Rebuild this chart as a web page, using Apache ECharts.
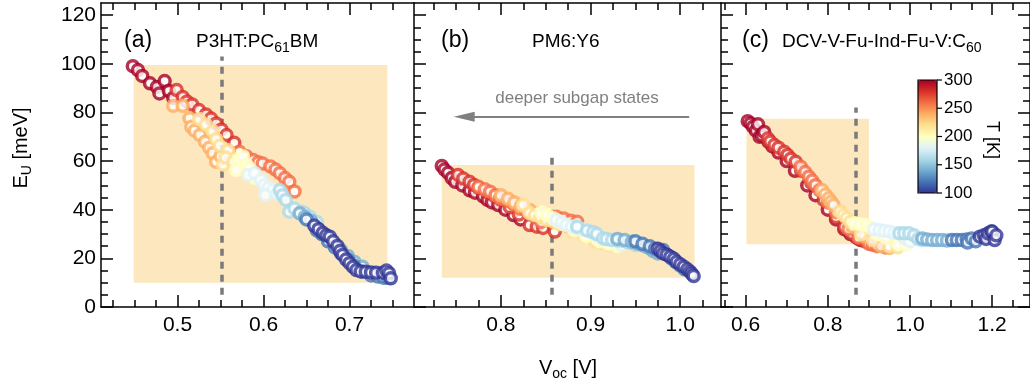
<!DOCTYPE html>
<html>
<head>
<meta charset="utf-8">
<script src="https://cdn.jsdelivr.net/npm/echarts@6/dist/echarts.min.js"></script>
<style>
html, body { margin: 0; padding: 0; background: #fff; }
#chart { width: 1030px; height: 389px; }
</style>
</head>
<body>
<div id="chart"></div>
<script>
// temperature of each point group [K], hot first so cold ones sit on top
const tempsK = [300, 280, 260, 240, 220, 200, 180, 160, 140, 120, 100];

// [Voc (V), EU (meV)] for each temperature in tempsK order
const panelA = [
  [[0.448, 99.0], [0.454, 97.4], [0.459, 95.0], [0.468, 92.0], [0.476, 90.5], [0.479, 87.8], [0.485, 92.9],
   [0.490, 88.8], [0.495, 86.0]],
  [[0.499, 89.2], [0.506, 86.4], [0.511, 84.5], [0.517, 83.3], [0.525, 81.0], [0.533, 79.2], [0.539, 77.5],
   [0.545, 75.5], [0.551, 73.0], [0.557, 70.7], [0.566, 67.5]],
  [[0.572, 63.8], [0.580, 62.0], [0.588, 60.4], [0.594, 59.5], [0.599, 59.0], [0.608, 57.8], [0.614, 56.5],
   [0.619, 55.0], [0.625, 53.0], [0.630, 51.5], [0.636, 47.5]],
  [[0.495, 82.7], [0.506, 82.7], [0.514, 77.6], [0.516, 74.1], [0.520, 72.5], [0.526, 70.7], [0.532, 67.9],
   [0.537, 65.5], [0.541, 63.2], [0.545, 59.7], [0.550, 62.0]],
  [[0.525, 77.3], [0.533, 75.0], [0.541, 72.3], [0.545, 69.0], [0.549, 66.3], [0.559, 64.5], [0.553, 58.5],
   [0.556, 61.5], [0.565, 59.7]],
  [[0.574, 59.7], [0.571, 61.0], [0.568, 56.3], [0.576, 62.0], [0.580, 58.5], [0.584, 57.0], [0.590, 53.0]],
  [[0.582, 54.3], [0.590, 55.0], [0.597, 52.2], [0.601, 50.1], [0.606, 49.0], [0.611, 48.1], [0.602, 46.0],
   [0.616, 46.5]],
  [[0.619, 48.1], [0.622, 46.0], [0.626, 44.0], [0.630, 39.2], [0.636, 40.5], [0.644, 39.2], [0.648, 38.5],
   [0.654, 37.1], [0.662, 35.0]],
  [[0.642, 38.5], [0.648, 37.0], [0.655, 35.5], [0.662, 32.5], [0.668, 30.0], [0.675, 28.5], [0.682, 26.0],
   [0.690, 23.5], [0.698, 21.0], [0.706, 18.5], [0.715, 16.6], [0.730, 14.0]],
  [[0.650, 36.0], [0.662, 31.5], [0.668, 30.0], [0.675, 27.0], [0.683, 24.5], [0.690, 22.0], [0.698, 19.5],
   [0.705, 17.0], [0.715, 14.5], [0.725, 13.0], [0.733, 12.5], [0.740, 12.0], [0.745, 12.0]],
  [[0.659, 33.5], [0.664, 32.0], [0.669, 30.5], [0.673, 29.5], [0.677, 28.9], [0.681, 27.0], [0.686, 25.1],
   [0.689, 23.0], [0.692, 21.4], [0.696, 19.5], [0.700, 18.0], [0.704, 16.5], [0.708, 15.2], [0.713, 14.6],
   [0.719, 14.5], [0.725, 14.2], [0.731, 14.1], [0.739, 14.1], [0.743, 15.0], [0.746, 13.9], [0.748, 11.8]]
];

const panelB = [
  [[0.734, 58.0], [0.737, 56.5], [0.741, 55.2], [0.745, 53.0], [0.749, 51.5], [0.757, 50.0], [0.765, 48.0],
   [0.771, 47.0], [0.780, 45.5], [0.785, 44.0], [0.790, 43.0], [0.797, 41.9], [0.805, 40.0], [0.814, 37.8],
   [0.822, 36.0]],
  [[0.752, 54.3], [0.758, 52.8], [0.765, 51.5], [0.770, 50.2], [0.775, 49.0], [0.785, 47.0], [0.793, 45.5],
   [0.800, 44.0], [0.810, 41.0], [0.820, 38.0], [0.832, 33.7], [0.840, 33.0], [0.847, 32.5], [0.860, 31.0]],
  [[0.775, 49.4], [0.782, 48.4], [0.788, 47.4], [0.794, 46.0], [0.799, 44.7], [0.805, 44.0], [0.810, 43.3],
   [0.815, 42.0], [0.821, 40.5], [0.828, 39.5], [0.838, 37.0], [0.845, 35.0], [0.862, 37.1], [0.870, 36.4],
   [0.878, 35.5], [0.885, 35.1]],
  [[0.800, 46.0], [0.808, 44.5], [0.815, 43.0], [0.822, 41.5], [0.832, 39.9], [0.840, 38.5], [0.850, 37.0],
   [0.862, 35.0], [0.875, 33.0], [0.888, 31.5], [0.900, 30.0]],
  [[0.825, 42.0], [0.832, 38.5], [0.838, 37.8], [0.844, 37.1], [0.851, 35.8], [0.858, 35.1], [0.865, 34.0],
   [0.880, 31.0], [0.893, 29.0], [0.905, 27.0], [0.912, 26.3], [0.920, 25.5]],
  [[0.845, 39.0], [0.852, 37.8], [0.858, 36.5], [0.864, 35.2], [0.870, 34.0], [0.882, 31.5], [0.895, 29.0],
   [0.910, 27.0], [0.920, 26.0], [0.930, 25.0]],
  [[0.862, 35.8], [0.868, 34.8], [0.873, 33.7], [0.879, 33.0], [0.885, 32.3], [0.890, 32.0], [0.896, 31.6],
   [0.902, 30.5], [0.907, 29.6], [0.920, 27.5], [0.935, 25.5]],
  [[0.885, 33.0], [0.896, 31.5], [0.903, 30.8], [0.907, 30.0], [0.914, 28.2], [0.918, 28.0], [0.924, 27.5],
   [0.930, 27.3], [0.935, 27.2], [0.942, 26.5], [0.950, 25.5]],
  [[0.930, 28.0], [0.938, 27.5], [0.946, 26.8], [0.952, 26.2], [0.957, 25.5], [0.962, 24.8], [0.966, 24.1],
   [0.970, 23.0], [0.975, 22.0]],
  [[0.950, 27.0], [0.958, 26.0], [0.966, 25.0], [0.972, 24.0], [0.978, 22.7], [0.981, 23.4], [0.985, 21.5],
   [0.990, 20.0], [0.995, 18.5], [1.000, 17.0], [1.005, 15.5]],
  [[0.975, 24.0], [0.978, 23.0], [0.981, 22.0], [0.985, 21.5], [0.989, 20.7], [0.993, 19.8], [0.996, 18.6],
   [1.000, 17.6], [1.004, 16.6], [1.008, 15.5], [1.011, 14.5], [1.013, 13.6], [1.015, 12.7]]
];

const panelC = [
  [[0.605, 76.4], [0.612, 75.5], [0.618, 74.1], [0.625, 72.5], [0.630, 75.1], [0.634, 70.0], [0.640, 70.5],
   [0.645, 72.0], [0.655, 68.0], [0.665, 66.0], [0.680, 63.5], [0.700, 60.0], [0.720, 56.0], [0.750, 50.0],
   [0.770, 46.0], [0.800, 40.0], [0.820, 36.0], [0.840, 32.0], [0.855, 30.0], [0.870, 28.5], [0.880, 27.5]],
  [[0.654, 69.3], [0.660, 68.0], [0.670, 66.6], [0.680, 65.5], [0.694, 63.8], [0.702, 62.5], [0.710, 61.0],
   [0.722, 59.7], [0.735, 56.0], [0.760, 51.0], [0.790, 44.0], [0.820, 37.0], [0.840, 33.0], [0.860, 30.0],
   [0.875, 28.0], [0.890, 27.0], [0.905, 26.0]],
  [[0.734, 57.7], [0.745, 55.5], [0.754, 53.6], [0.762, 52.0], [0.770, 50.1], [0.780, 48.0], [0.800, 43.0],
   [0.820, 39.0], [0.850, 32.0], [0.875, 28.5], [0.900, 26.0], [0.910, 25.5], [0.920, 25.0], [0.940, 24.5]],
  [[0.786, 48.1], [0.794, 46.3], [0.802, 44.7], [0.808, 43.3], [0.814, 41.9], [0.830, 39.0], [0.860, 33.0],
   [0.890, 29.0], [0.930, 25.0], [0.950, 24.3]],
  [[0.830, 39.2], [0.838, 37.8], [0.846, 36.5], [0.855, 35.0], [0.880, 30.0], [0.910, 27.5], [0.950, 25.0],
   [0.970, 24.5]],
  [[0.866, 34.4], [0.880, 34.0], [0.894, 33.7], [0.905, 32.5], [0.920, 30.0], [0.940, 28.5], [0.970, 26.0],
   [0.990, 25.5]],
  [[0.913, 32.0], [0.926, 31.6], [0.938, 31.3], [0.950, 31.0], [0.962, 30.5], [0.990, 28.0], [1.000, 27.0]],
  [[0.974, 30.3], [0.986, 30.3], [0.998, 30.3], [1.010, 29.5], [1.020, 28.0], [1.030, 27.5]],
  [[1.030, 28.2], [1.042, 27.8], [1.054, 27.5], [1.066, 27.5], [1.078, 27.5], [1.090, 27.3]],
  [[1.102, 27.5], [1.114, 27.5], [1.126, 27.5], [1.138, 27.8], [1.140, 26.5], [1.150, 28.2], [1.160, 27.0]],
  [[1.170, 28.9], [1.180, 29.5], [1.185, 28.0], [1.190, 30.3], [1.198, 31.0], [1.200, 31.0], [1.206, 27.5],
   [1.210, 29.5]]
];

// shaded boxes [[x0, y0], [x1, y1]] and dashed markers [x, yTop]
const shadeBoxes = [[[0.449, 10], [0.744, 99.5]], [[0.734, 12], [1.016, 58.4]], [[0.602, 25.8], [0.900, 77.4]]];
const dashLines = [[0.552, 103], [0.857, 63.3], [0.868, 82]];

const xRanges = [[0.411, 0.775], [0.703, 1.0455], [0.54, 1.292]];
const xMajor = [[0.5, 0.6, 0.7], [0.8, 0.9, 1.0], [0.6, 0.8, 1.0, 1.2]];
const xMinorStep = [0.025, 0.025, 0.05];
const yMajor = [0, 20, 40, 60, 80, 100, 120];
const cbTicks = [100, 150, 200, 250, 300];

const cmap = ['#313695', '#4575b4', '#74add1', '#abd9e9', '#e0f3f8', '#ffffbf',
  '#fee090', '#fdae61', '#f46d43', '#d73027', '#a50026'];

const FONT = 'Liberation Sans, Arial, sans-serif';
const grids = [
  { left: 101, top: 3, width: 313, height: 304 },
  { left: 414, top: 3, width: 307, height: 304 },
  { left: 721, top: 3, width: 313, height: 304 }
];

function minorTicks(lo, hi, step, majors) {
  const out = [];
  for (let k = Math.ceil(lo / step - 1e-6); k * step < hi - 1e-6; k++) {
    const v = +(k * step).toFixed(4);
    if (v > lo + 1e-6 && !majors.some(m => Math.abs(m - v) < 1e-6)) out.push(v);
  }
  return out;
}
const yMinor = minorTicks(0, 125, 5, yMajor);

const tickLine = { color: '#000', width: 1.5 };

function xAxisDef(i, pos, ticks, len, labels) {
  return {
    type: 'value', gridIndex: i, position: pos,
    min: xRanges[i][0], max: xRanges[i][1],
    axisLine: { show: len > 8, onZero: false, lineStyle: tickLine },
    axisTick: { show: true, inside: true, length: len, customValues: ticks, lineStyle: tickLine },
    axisLabel: {
      show: labels, customValues: ticks, margin: 8, fontSize: 21, color: '#000', fontFamily: FONT,
      formatter: v => v.toFixed(1)
    },
    splitLine: { show: false }
  };
}
function yAxisDef(i, pos, ticks, len, labels) {
  return {
    type: 'value', gridIndex: i, position: pos, min: 0, max: 125,
    axisLine: { show: len > 8, onZero: false, lineStyle: tickLine },
    axisTick: { show: true, inside: true, length: len, customValues: ticks, lineStyle: tickLine },
    axisLabel: { show: labels, customValues: ticks, margin: 5, fontSize: 21, color: '#000', fontFamily: FONT },
    splitLine: { show: false }
  };
}

const xAxes = [];
const yAxes = [];
const yMainIdx = [];
for (let i = 0; i < 3; i++) {
  const minors = minorTicks(xRanges[i][0], xRanges[i][1], xMinorStep[i], xMajor[i]);
  xAxes.push(xAxisDef(i, 'bottom', xMajor[i], 12, true));
  xAxes.push(xAxisDef(i, 'bottom', minors, 7, false));
  xAxes.push(xAxisDef(i, 'top', xMajor[i], 12, false));
  xAxes.push(xAxisDef(i, 'top', minors, 7, false));
  yMainIdx.push(yAxes.length);
  yAxes.push(yAxisDef(i, 'left', yMajor, 12, i === 0));
  yAxes.push(yAxisDef(i, 'left', yMinor, 7, false));
  if (i === 2) {
    yAxes.push(yAxisDef(i, 'right', yMajor, 12, false));
    yAxes.push(yAxisDef(i, 'right', yMinor, 7, false));
  }
}

function points(panel) {
  const out = [];
  panel.forEach((grp, k) => {
    const t = tempsK[k];
    const c = echarts.color.lerp((t - 100) / 200, cmap);
    grp.forEach(p => out.push({ value: [p[0], p[1], t], itemStyle: { borderColor: c } }));
  });
  return out;
}

const panels = [panelA, panelB, panelC];
const series = [];
panels.forEach((panel, i) => {
  series.push({
    type: 'scatter', xAxisIndex: i * 4, yAxisIndex: yMainIdx[i], z: 3,
    symbol: 'circle', symbolSize: 11,
    itemStyle: { color: '#fff', borderWidth: 3.5 },
    emphasis: { disabled: true },
    data: points(panel)
  });
});
panels.forEach((panel, i) => {
  const box = shadeBoxes[i];
  const d = dashLines[i];
  const lines = [[
    { coord: [d[0], 5], symbol: 'none', lineStyle: { color: '#7a7a7a', type: [7, 6], width: 3.5 } },
    { coord: [d[0], d[1]], symbol: 'none' }
  ]];
  if (i === 1) {
    lines.push([
      { coord: [1.010, 78.2], symbol: 'none', lineStyle: { color: '#808080', type: 'solid', width: 2 } },
      { coord: [0.759, 78.2], symbol: 'triangle', symbolSize: [10, 21] }
    ]);
  }
  series.push({
    type: 'scatter', xAxisIndex: i * 4, yAxisIndex: yMainIdx[i], z: 1, data: [],
    markArea: {
      silent: true, z: 0,
      itemStyle: { color: '#fde7bf' },
      data: [[{ coord: box[0] }, { coord: box[1] }]]
    },
    markLine: {
      silent: true, z: 1, symbol: 'none', animation: false,
      label: { show: false },
      data: lines
    }
  });
});
// dummy target for the colour bar
series.push({ type: 'scatter', xAxisIndex: 0, yAxisIndex: 0, data: [] });

const cbLeft = 918, cbTop = 80, cbW = 19, cbH = 113;
const cbGraphics = [{
  type: 'rect', shape: { x: cbLeft, y: cbTop, width: cbW, height: cbH },
  style: { fill: 'none', stroke: '#000', lineWidth: 1.2 }, z: 10
}];
cbTicks.forEach(t => {
  const y = cbTop + cbH - (t - 100) / 200 * cbH;
  cbGraphics.push({ type: 'line', shape: { x1: cbLeft + cbW, y1: y, x2: cbLeft + cbW + 5, y2: y },
    style: { stroke: '#000', lineWidth: 1.2 }, z: 10 });
  cbGraphics.push({ type: 'text', x: cbLeft + cbW + 7, y: y, z: 10,
    style: { text: String(t), font: '17px ' + FONT, fill: '#000', align: 'left', verticalAlign: 'middle' } });
});

const sub = (size, pad) => ({ fontSize: size, fontFamily: FONT, color: '#000', padding: [pad, 0, 0, 0] });
const base = size => ({ fontSize: size, fontFamily: FONT, color: '#000' });

function label(x, y, text, size) {
  return { type: 'text', x, y, z: 10,
    style: { text, font: size + 'px ' + FONT, fill: '#000', align: 'left', verticalAlign: 'middle' } };
}
function richLabel(x, y, text, size, subSize, align, rotation) {
  return { type: 'text', x, y, z: 10, rotation: rotation || 0,
    style: { text, align: align, verticalAlign: 'middle', rich: { b: base(size), s: sub(subSize, 12) } } };
}

const option = {
  animation: false,
  textStyle: { fontFamily: FONT },
  grid: grids,
  xAxis: xAxes,
  yAxis: yAxes,
  visualMap: {
    type: 'continuous', min: 100, max: 300, orient: 'vertical', seriesIndex: 6,
    left: cbLeft, top: cbTop, itemWidth: cbW, itemHeight: cbH, padding: 0,
    calculable: false, hoverLink: false, inRange: { color: cmap }
  },
  series,
  graphic: [
    label(124, 41, '(a)', 23),
    richLabel(196, 42, '{b|P3HT:PC}{s|61}{b|BM}', 19, 14, 'left'),
    label(441, 41, '(b)', 23),
    label(532, 42, 'PM6:Y6', 19),
    label(742, 41, '(c)', 23),
    richLabel(782, 42, '{b|DCV-V-Fu-Ind-Fu-V:C}{s|60}', 19, 14, 'left'),
    { type: 'text', x: 577, y: 98, z: 10,
      style: { text: 'deeper subgap states', font: '17px ' + FONT, fill: '#808080', align: 'center', verticalAlign: 'middle' } },
    richLabel(21, 148, '{b|E}{s|U}{b| [meV]}', 20, 14, 'center', Math.PI / 2),
    richLabel(568, 368, '{b|V}{s|oc}{b| [V]}', 20, 14, 'center'),
    { type: 'text', x: 992, y: 140, z: 10, rotation: -Math.PI / 2,
      style: { text: 'T [K]', font: '18px ' + FONT, fill: '#000', align: 'center', verticalAlign: 'middle' } }
  ].concat(cbGraphics)
};

const chart = echarts.init(document.getElementById('chart'));
chart.setOption(option);
</script>
</body>
</html>
